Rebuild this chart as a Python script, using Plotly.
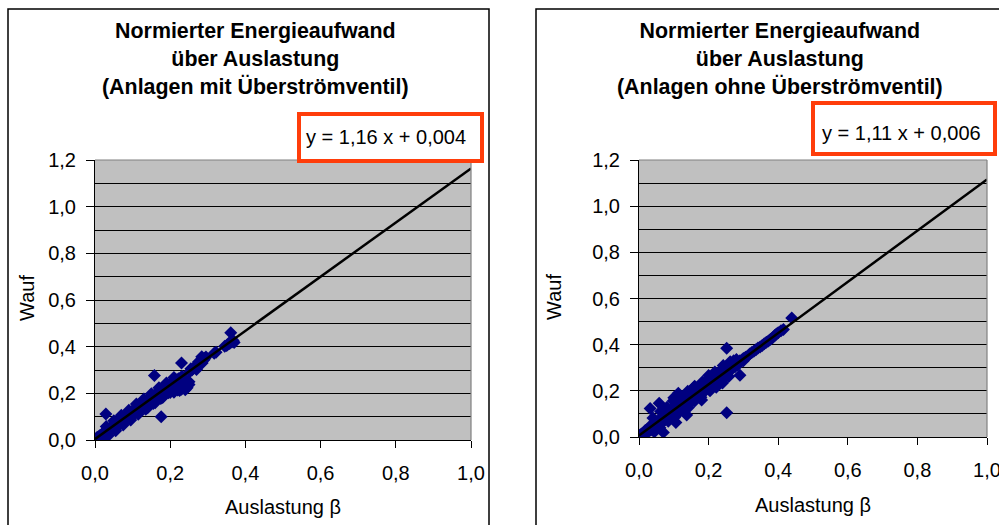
import plotly.graph_objects as go

# ---------------- data ----------------
left_x = [0.000, 0.004, 0.006, 0.010, 0.012, 0.015, 0.018, 0.020, 0.022, 0.025, 0.028, 0.030,
          0.032, 0.035, 0.038, 0.040, 0.042, 0.045, 0.048, 0.050, 0.052, 0.055, 0.058, 0.060,
          0.062, 0.065, 0.068, 0.070, 0.072, 0.075, 0.078, 0.080, 0.082, 0.085, 0.088, 0.090,
          0.092, 0.095, 0.098, 0.100, 0.102, 0.105, 0.108, 0.110, 0.112, 0.115, 0.118, 0.120,
          0.122, 0.125, 0.128, 0.130, 0.132, 0.135, 0.138, 0.140, 0.142, 0.145, 0.148, 0.150,
          0.152, 0.155, 0.158, 0.160, 0.162, 0.165, 0.168, 0.170, 0.172, 0.175, 0.178, 0.180,
          0.182, 0.185, 0.188, 0.190, 0.192, 0.195, 0.198, 0.200, 0.202, 0.205, 0.208, 0.210,
          0.212, 0.215, 0.218, 0.220, 0.222, 0.225, 0.228, 0.230, 0.232, 0.235, 0.238, 0.240,
          0.242, 0.245, 0.248, 0.250,
          0.030, 0.050, 0.070, 0.090, 0.110, 0.130, 0.150, 0.170, 0.190, 0.210,
          0.035, 0.055, 0.075, 0.095, 0.115, 0.135, 0.155, 0.175, 0.195, 0.215,
          0.140, 0.160, 0.180, 0.200, 0.220, 0.235, 0.245, 0.250, 0.230, 0.225,
          0.252, 0.255, 0.258, 0.262, 0.265, 0.268, 0.270, 0.272, 0.275, 0.276, 0.280, 0.284,
          0.285, 0.288, 0.290, 0.292, 0.295, 0.317, 0.322,
          0.345, 0.350, 0.352, 0.358, 0.361, 0.364, 0.365, 0.368, 0.370,
          0.158, 0.176, 0.029, 0.230, 0.240, 0.210]
left_y = [0.004, 0.000, 0.012, 0.008, 0.018, 0.010, 0.025, 0.018, 0.030, 0.022, 0.036, 0.028,
          0.042, 0.034, 0.048, 0.040, 0.055, 0.046, 0.060, 0.052, 0.066, 0.058, 0.072, 0.060,
          0.080, 0.068, 0.085, 0.075, 0.092, 0.080, 0.098, 0.088, 0.104, 0.090, 0.110, 0.098,
          0.116, 0.100, 0.122, 0.110, 0.128, 0.112, 0.134, 0.120, 0.140, 0.124, 0.146, 0.130,
          0.150, 0.136, 0.158, 0.140, 0.162, 0.146, 0.168, 0.152, 0.174, 0.158, 0.180, 0.162,
          0.186, 0.170, 0.192, 0.174, 0.198, 0.178, 0.204, 0.184, 0.210, 0.190, 0.216, 0.194,
          0.222, 0.200, 0.228, 0.206, 0.232, 0.212, 0.238, 0.214, 0.244, 0.220, 0.250, 0.226,
          0.254, 0.230, 0.258, 0.226, 0.262, 0.236, 0.268, 0.242, 0.272, 0.248, 0.240, 0.252,
          0.232, 0.244, 0.236, 0.250,
          0.058, 0.082, 0.106, 0.128, 0.154, 0.176, 0.198, 0.224, 0.244, 0.268,
          0.018, 0.040, 0.064, 0.086, 0.110, 0.132, 0.156, 0.178, 0.202, 0.220,
          0.138, 0.160, 0.182, 0.204, 0.214, 0.226, 0.224, 0.238, 0.218, 0.212,
          0.292, 0.305, 0.300, 0.308, 0.312, 0.314, 0.302, 0.322, 0.334, 0.328, 0.340, 0.357,
          0.330, 0.346, 0.344, 0.350, 0.356, 0.372, 0.376,
          0.402, 0.405, 0.408, 0.414, 0.460, 0.420, 0.430, 0.424, 0.418,
          0.276, 0.100, 0.111, 0.330, 0.215, 0.205]

right_x = [0.000, 0.004, 0.008, 0.010, 0.014, 0.018, 0.020, 0.024, 0.028, 0.030, 0.034, 0.038,
           0.040, 0.044, 0.048, 0.050, 0.054, 0.058, 0.060, 0.064, 0.068, 0.070, 0.074, 0.078,
           0.080, 0.084, 0.088, 0.090, 0.094, 0.098, 0.100, 0.104, 0.108, 0.110, 0.114, 0.118,
           0.120, 0.124, 0.128, 0.130, 0.134, 0.138, 0.140, 0.144, 0.148, 0.150, 0.154, 0.158,
           0.160, 0.164, 0.168, 0.170, 0.174, 0.178, 0.180, 0.184, 0.188, 0.190, 0.194, 0.198,
           0.200, 0.204, 0.208, 0.210, 0.214, 0.218, 0.220, 0.224, 0.228, 0.230, 0.234, 0.238,
           0.240, 0.244, 0.248, 0.250, 0.254, 0.258, 0.260, 0.264, 0.268, 0.272, 0.276, 0.280,
           0.284, 0.290, 0.296, 0.300, 0.306, 0.312, 0.318, 0.324, 0.330, 0.336, 0.342, 0.348,
           0.354, 0.360, 0.366, 0.372, 0.378, 0.384, 0.390, 0.395, 0.400, 0.408, 0.415,
           0.040, 0.062, 0.080, 0.098, 0.122, 0.140, 0.158, 0.182, 0.200, 0.218, 0.242, 0.262,
           0.044, 0.060, 0.084, 0.102, 0.118, 0.142, 0.160, 0.178, 0.204, 0.222, 0.238, 0.258,
           0.252, 0.252, 0.058, 0.070, 0.106, 0.439, 0.290, 0.137, 0.032, 0.113, 0.240, 0.100,
           0.160, 0.180, 0.300]
right_y = [0.000, 0.010, 0.004, 0.016, 0.010, 0.028, 0.016, 0.034, 0.024, 0.044, 0.030, 0.050,
           0.036, 0.060, 0.046, 0.066, 0.052, 0.074, 0.058, 0.082, 0.064, 0.090, 0.074, 0.098,
           0.080, 0.108, 0.088, 0.116, 0.094, 0.122, 0.100, 0.130, 0.108, 0.140, 0.118, 0.146,
           0.124, 0.152, 0.132, 0.160, 0.140, 0.166, 0.146, 0.178, 0.152, 0.182, 0.160, 0.196,
           0.166, 0.204, 0.176, 0.210, 0.184, 0.214, 0.190, 0.224, 0.198, 0.236, 0.206, 0.240,
           0.216, 0.250, 0.222, 0.258, 0.230, 0.266, 0.236, 0.274, 0.240, 0.282, 0.256, 0.290,
           0.262, 0.296, 0.268, 0.304, 0.280, 0.310, 0.288, 0.318, 0.296, 0.330, 0.304, 0.336,
           0.312, 0.330, 0.334, 0.340, 0.346, 0.350, 0.360, 0.366, 0.372, 0.378, 0.386, 0.390,
           0.396, 0.404, 0.410, 0.416, 0.424, 0.430, 0.440, 0.446, 0.452, 0.460, 0.466,
           0.082, 0.110, 0.128, 0.156, 0.170, 0.198, 0.216, 0.238, 0.266, 0.282, 0.310, 0.326,
           0.022, 0.040, 0.068, 0.084, 0.110, 0.128, 0.156, 0.172, 0.200, 0.216, 0.244, 0.262,
           0.384, 0.105, 0.146, 0.020, 0.063, 0.516, 0.268, 0.095, 0.124, 0.189, 0.234, 0.170,
           0.220, 0.160, 0.330]

left_fit = {"slope": 1.16, "intercept": 0.004}
right_fit = {"slope": 1.11, "intercept": 0.006}
fit_x = [0.0, 1.0]

left_title = "Normierter Energieaufwand<br>über Auslastung<br>(Anlagen mit Überströmventil)"
right_title = "Normierter Energieaufwand<br>über Auslastung<br>(Anlagen ohne Überströmventil)"
left_eq = "y = 1,16 x + 0,004"
right_eq = "y = 1,11 x + 0,006"
x_title = "Auslastung β"
y_title = "Wauf"

# ---------------- layout helpers ----------------
W, H = 999, 525
FONT = "Liberation Sans, Arial, sans-serif"
NAVY = "#000080"
RED = "#FF3D0A"


def px(x):
    return x / W


def py(y):
    return 1 - y / H


fig = go.Figure()

for xs, ys, fit, ax in [(left_x, left_y, left_fit, ""), (right_x, right_y, right_fit, "2")]:
    fig.add_trace(go.Scatter(
        x=xs, y=ys, mode="markers", xaxis="x" + ax, yaxis="y" + ax,
        marker=dict(symbol="diamond", size=10, color=NAVY, line=dict(width=0)),
        showlegend=False, hoverinfo="x+y"))
    fit_y = [fit["slope"] * v + fit["intercept"] for v in fit_x]
    fig.add_trace(go.Scatter(
        x=fit_x, y=fit_y, mode="lines", xaxis="x" + ax, yaxis="y" + ax,
        line=dict(color="black", width=2.5), showlegend=False, hoverinfo="skip"))

common_x = dict(range=[0, 1], dtick=0.2, tick0=0, tickformat=".1f", showgrid=False,
                zeroline=False, showline=True, linecolor="black", linewidth=1,
                ticks="outside", ticklen=7, tickcolor="black", ticklabelstandoff=8,
                automargin=False, ticklabeloverflow="allow",
                tickfont=dict(family=FONT, size=20, color="black"), fixedrange=True)
common_y = dict(range=[0, 1.2], dtick=0.2, tick0=0, tickformat=".1f", showgrid=True,
                gridcolor="black", gridwidth=1, zeroline=False, showline=True,
                linecolor="black", linewidth=1, ticks="outside", ticklen=8, tickcolor="black",
                ticklabelstandoff=6, automargin=False,
                minor=dict(dtick=0.1, tick0=0, showgrid=True, gridcolor="black", gridwidth=1,
                           ticks=""),
                tickfont=dict(family=FONT, size=20, color="black"), fixedrange=True)

fig.update_layout(
    template="none",
    width=W, height=H, autosize=False,
    margin=dict(l=0, r=0, t=0, b=0, pad=0, autoexpand=False),
    paper_bgcolor="white",
    plot_bgcolor="#C0C0C0",
    separators=",.",
    font=dict(family=FONT, size=20, color="black"),
    xaxis=dict(domain=[px(95), px(471)], anchor="y", **common_x),
    yaxis=dict(domain=[py(440), py(160)], anchor="x", **common_y),
    xaxis2=dict(domain=[px(639), px(987)], anchor="y2", **common_x),
    yaxis2=dict(domain=[py(437), py(160)], anchor="x2", **common_y),
)

shapes = [
    # panel borders
    dict(type="rect", xref="paper", yref="paper", x0=px(8), x1=px(489), y0=py(540), y1=py(9),
         line=dict(color="black", width=1.5), fillcolor="rgba(0,0,0,0)", layer="below"),
    dict(type="rect", xref="paper", yref="paper", x0=px(536), x1=px(1010), y0=py(540), y1=py(9),
         line=dict(color="black", width=1.5), fillcolor="rgba(0,0,0,0)", layer="below"),
    # grey plot-area frame (top / right edges)
    dict(type="line", xref="paper", yref="paper", x0=px(95), x1=px(471), y0=py(160), y1=py(160),
         line=dict(color="#808080", width=1.2), layer="above"),
    dict(type="line", xref="paper", yref="paper", x0=px(471), x1=px(471), y0=py(160), y1=py(440),
         line=dict(color="#808080", width=1.2), layer="above"),
    dict(type="line", xref="paper", yref="paper", x0=px(639), x1=px(987), y0=py(160), y1=py(160),
         line=dict(color="#808080", width=1.2), layer="above"),
    dict(type="line", xref="paper", yref="paper", x0=px(987), x1=px(987), y0=py(160), y1=py(437),
         line=dict(color="#808080", width=1.2), layer="above"),
    # equation boxes
    dict(type="rect", xref="paper", yref="paper", x0=px(299), x1=px(482), y0=py(161), y1=py(114),
         line=dict(color=RED, width=4), fillcolor="white", layer="above"),
    dict(type="rect", xref="paper", yref="paper", x0=px(813), x1=px(995), y0=py(154), y1=py(103),
         line=dict(color=RED, width=4), fillcolor="white", layer="above"),
]
fig.update_layout(shapes=shapes)

annotations = [
    dict(text="<b>" + left_title.replace("<br>", "</b><br><b>") + "</b>", x=px(255), y=py(59),
         xref="paper", yref="paper", xanchor="center", yanchor="middle", showarrow=False,
         font=dict(family=FONT, size=21.4, color="black")),
    dict(text="<b>" + right_title.replace("<br>", "</b><br><b>") + "</b>", x=px(780), y=py(59),
         xref="paper", yref="paper", xanchor="center", yanchor="middle", showarrow=False,
         font=dict(family=FONT, size=21.4, color="black")),
    dict(text=left_eq, x=px(386), y=py(137), xref="paper", yref="paper", xanchor="center",
         yanchor="middle", showarrow=False, font=dict(family=FONT, size=20, color="black")),
    dict(text=right_eq, x=px(901), y=py(133), xref="paper", yref="paper", xanchor="center",
         yanchor="middle", showarrow=False, font=dict(family=FONT, size=20, color="black")),
    dict(text=x_title, x=px(283), y=py(507), xref="paper", yref="paper", xanchor="center",
         yanchor="middle", showarrow=False, font=dict(family=FONT, size=20, color="black")),
    dict(text=x_title, x=px(813), y=py(505), xref="paper", yref="paper", xanchor="center",
         yanchor="middle", showarrow=False, font=dict(family=FONT, size=20, color="black")),
    dict(text=y_title, x=px(27), y=py(298), xref="paper", yref="paper", xanchor="center",
         yanchor="middle", textangle=-90, showarrow=False,
         font=dict(family=FONT, size=20, color="black")),
    dict(text=y_title, x=px(554), y=py(297), xref="paper", yref="paper", xanchor="center",
         yanchor="middle", textangle=-90, showarrow=False,
         font=dict(family=FONT, size=20, color="black")),
]
fig.update_layout(annotations=annotations)

fig.write_html(
    "out.html",
    config={"displayModeBar": False},
    post_script="document.body.style.margin='0';document.body.style.overflow='hidden';",
)
